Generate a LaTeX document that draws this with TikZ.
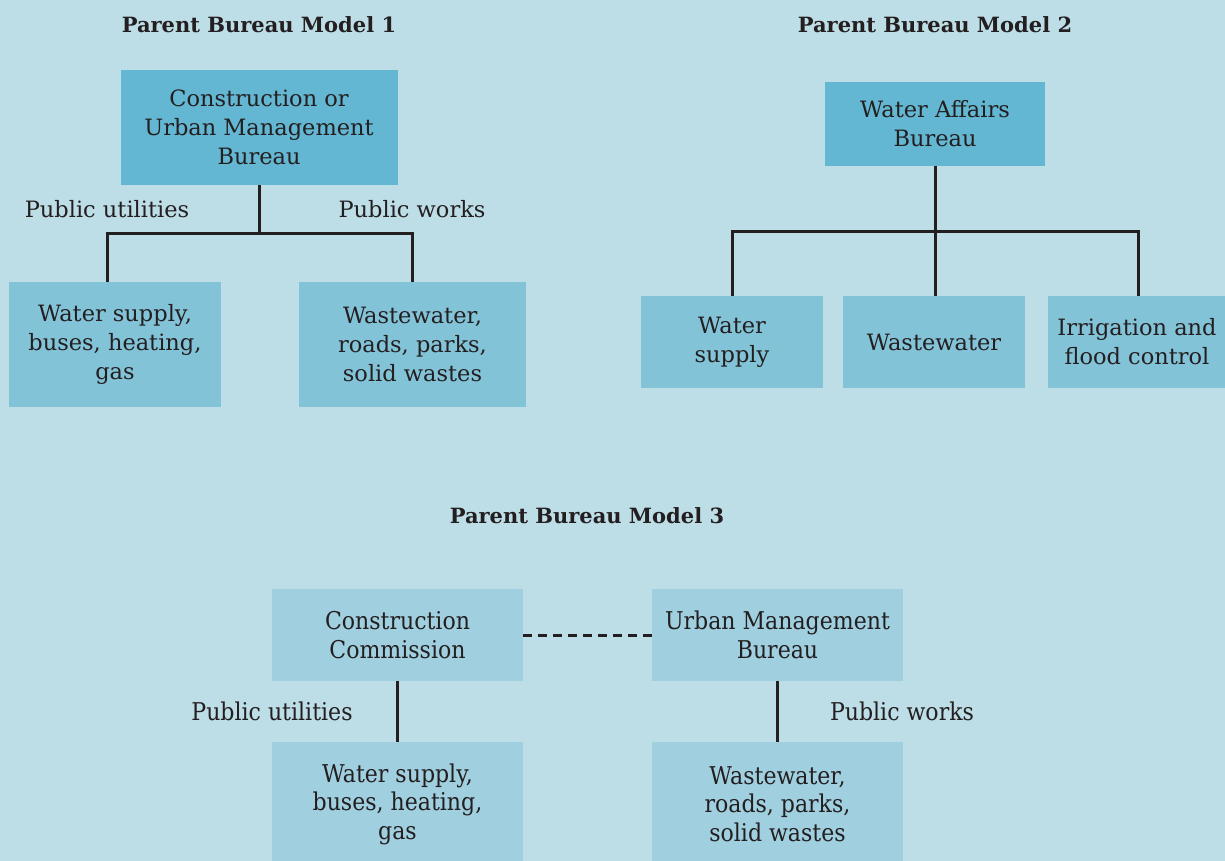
\documentclass[tikz,border=0pt]{standalone}
\usepackage{fontspec}
\setmainfont{DejaVu Serif}
\newfontfamily\condfont[FakeStretch=0.9]{DejaVu Serif}
\definecolor{bg}{HTML}{BDDDE7}
\definecolor{topc}{HTML}{64B7D2}
\definecolor{childc}{HTML}{83C3D8}
\definecolor{mthree}{HTML}{A0CFE0}
\definecolor{ink}{HTML}{231F20}
\tikzset{
  txt/.style={inner sep=0pt, align=center, text=ink, font=\fontsize{22.5}{29}\selectfont},
  ttl/.style={inner sep=0pt, text=ink, font=\fontsize{21}{29}\selectfont\bfseries},
  topbox/.style={txt, fill=topc},
  childbox/.style={txt, fill=childc},
  mbox/.style={txt, fill=mthree, font=\fontsize{24.5}{28.5}\selectfont\condfont},
  mlab/.style={txt, font=\fontsize{24.5}{28.5}\selectfont\condfont},
  conn/.style={draw=ink, line width=3pt},
  dconn/.style={draw=ink, line width=3pt, dash pattern=on 9pt off 6pt},
}
\begin{document}
\begin{tikzpicture}[x=1pt,y=-1pt]
\fill[bg] (0,0) rectangle (1225,861);
\useasboundingbox (0,0) rectangle (1225,861);
% Model 1
\node[ttl] (t1) at (259,25) {Parent Bureau Model 1};
\node[topbox, minimum width=277, minimum height=115] (m1top) at (259,127.5) {Construction or\\Urban Management\\Bureau};
\node[childbox, minimum width=212, minimum height=125] (m1l) at (115,344.5) {Water supply,\\buses, heating,\\gas};
\node[childbox, minimum width=227, minimum height=125] (m1r) at (412.5,344.5) {Wastewater,\\roads, parks,\\solid wastes};
\coordinate (j1) at (259,233);
\coordinate (m1la) at (107,282);
\coordinate (m1ra) at (412,282);
\draw[conn] (m1top.south) -- (j1);
\draw[conn] (m1la) -- (m1la |- j1) -- (m1ra |- j1) -- (m1ra);
\node[txt] (l1a) at (107,209) {Public utilities};
\node[txt] (l1b) at (412,209) {Public works};
% Model 2
\node[ttl] (t2) at (935,25) {Parent Bureau Model 2};
\node[topbox, minimum width=220, minimum height=84] (m2top) at (935,124) {Water Affairs\\Bureau};
\node[childbox, minimum width=182, minimum height=92] (m2a) at (732,342) {Water\\supply};
\node[childbox, minimum width=182, minimum height=92] (m2b) at (934,342) {Wastewater};
\node[childbox, minimum width=178, minimum height=92] (m2c) at (1137,342) {Irrigation and\\flood control};
\coordinate (j2) at (935,231);
\coordinate (m2ca) at (1138,296);
\draw[conn] (m2top.south) -- (m2top.south |- m2b.north);
\draw[conn] (m2a.north) -- (m2a.north |- j2) -- (m2ca |- j2) -- (m2ca);
% Model 3
\node[ttl] (t3) at (587,516) {Parent Bureau Model 3};
\node[mbox, minimum width=251, minimum height=92] (cc) at (397.5,635) {Construction\\Commission};
\node[mbox, minimum width=251, minimum height=92] (umb) at (777.5,635) {Urban Management\\Bureau};
\node[mbox, minimum width=251, minimum height=124] (m3l) at (397.5,804) {Water supply,\\buses, heating,\\gas};
\node[mbox, minimum width=251, minimum height=124] (m3r) at (777.5,804) {Wastewater,\\roads, parks,\\solid wastes};
\draw[dconn] (cc.east) -- (umb.west);
\draw[conn, line width=2.5pt] (cc.south) -- (m3l.north);
\draw[conn, line width=2.5pt] (umb.south) -- (m3r.north);
\node[mlab] (l3a) at (272,711) {Public utilities};
\node[mlab] (l3b) at (902,711) {Public works};
\end{tikzpicture}
\end{document}
